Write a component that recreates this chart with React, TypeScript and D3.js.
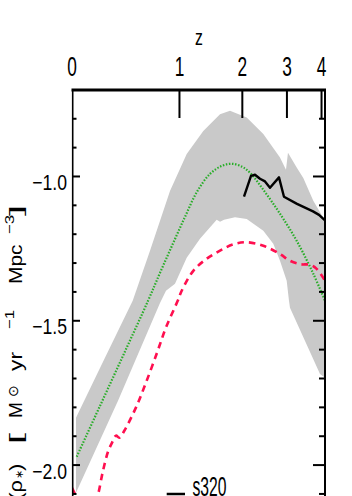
import React from "react";
import * as d3 from "d3";

// top axis: redshift z (positioned at log10(1+z))
const zTicks = [0, 1, 2, 3, 4];
const zTickLabels = ["0", "1", "2", "3", "4"];
// left axis: log star formation rate density
const yMajorTicks = [-1.0, -1.5, -2.0];
const yMajorLabels = ["\u22121.0", "\u22121.5", "\u22122.0"];
const yMinorTicks = [-0.8, -0.9, -1.1, -1.2, -1.3, -1.4, -1.6, -1.7, -1.8, -1.9, -2.1, -2.2];

// grey observational band: x = log10(1+z), y = log rho*
const bandUpperX = [0.0112, 0.0896, 0.17, 0.2185, 0.2745, 0.3213, 0.3678, 0.4146, 0.4426, 0.4894, 0.5359, 0.5826, 0.5994, 0.605, 0.6294, 0.6479, 0.6759, 0.7087];
const bandUpperY = [-1.836, -1.635, -1.431, -1.257, -1.05, -0.922, -0.842, -0.784, -0.772, -0.796, -0.853, -0.934, -0.977, -0.918, -0.969, -1.005, -1.084, -1.153];
const bandLowerX = [0.0112, 0.1289, 0.2465, 0.2633, 0.2885, 0.3213, 0.3585, 0.4053, 0.4146, 0.4258, 0.4566, 0.4894, 0.5359, 0.5639, 0.5826, 0.6014, 0.6078, 0.6106, 0.6947, 0.7087];
const bandLowerY = [-2.096, -1.777, -1.438, -1.396, -1.372, -1.282, -1.216, -1.15, -1.157, -1.15, -1.141, -1.147, -1.188, -1.233, -1.292, -1.361, -1.431, -1.455, -1.684, -1.697];

// green dotted curve
const fitX = [0.0132, 0.0784, 0.1485, 0.2129, 0.2465, 0.2801, 0.3165, 0.3501, 0.3866, 0.4202, 0.4482, 0.4762, 0.4986, 0.5359, 0.5826, 0.6294, 0.6759, 0.7087];
const fitY = [-1.971, -1.795, -1.606, -1.431, -1.334, -1.24, -1.14, -1.053, -0.991, -0.963, -0.956, -0.966, -0.987, -1.046, -1.129, -1.223, -1.337, -1.431];

// red dashed curve
const dustX = [0, 0.0112, 0.028, 0.0504, 0.0644, 0.0728, 0.0868, 0.1008, 0.112, 0.1232, 0.1325, 0.1465, 0.1793, 0.2073, 0.2401, 0.2633, 0.2961, 0.3073, 0.3398, 0.3773, 0.4146, 0.4518, 0.4894, 0.5359, 0.5826, 0.6106, 0.6387, 0.6667, 0.6854, 0.7087];
const dustY = [-2.079, -2.106, -2.134, -2.144, -2.134, -2.103, -2.02, -1.954, -1.923, -1.898, -1.905, -1.881, -1.8, -1.714, -1.604, -1.523, -1.431, -1.396, -1.327, -1.285, -1.257, -1.235, -1.228, -1.24, -1.269, -1.292, -1.304, -1.306, -1.32, -1.361];

// black solid curve (s320)
const simX = [0.4818, 0.5014, 0.5126, 0.5266, 0.5406, 0.5546, 0.5798, 0.5938, 0.6303, 0.6751, 0.6919, 0.7087];
const simY = [-1.07, -0.998, -0.994, -1.008, -1.017, -1.039, -1.003, -1.07, -1.095, -1.121, -1.133, -1.152];

const legendLabel = "s320";
const xTitle = "z";

const L = 72, R = 325, T = 90;

export default function App() {
  const x = d3.scaleLinear().domain([0, 0.7087]).range([L, R]);
  const y = d3.scaleLinear().domain([-0.7, -2.2]).range([89.9, 89.9 + 1.5 * 288.6]);

  const pts = (xs: number[], ys: number[]) => xs.map((v, i) => [v, ys[i]] as [number, number]);
  const lin = d3.line<[number, number]>().x(d => x(d[0])).y(d => y(d[1]));
  const smooth = d3.line<[number, number]>().x(d => x(d[0])).y(d => y(d[1])).curve(d3.curveCatmullRom.alpha(0.5));

  const bandPts = [...pts(bandUpperX, bandUpperY), ...pts(bandLowerX, bandLowerY).reverse()];
  const bandPath = lin(bandPts) + "Z";

  const font = "'Liberation Sans', Arial, sans-serif";
  const tr = (lx: number, ly: number, sx: number) => `translate(${lx},${ly}) scale(${sx},1)`;

  return (
    <svg width={352} height={496} style={{ position: "absolute", left: 0, top: 0, background: "#fff" }}>
      <defs>
        <clipPath id="plotclip">
          <rect x={L} y={T} width={R - L} height={500} />
        </clipPath>
      </defs>
      <g clipPath="url(#plotclip)">
        <path d={bandPath} fill="#c9c9c9" stroke="none" />
        <path d={smooth(pts(fitX, fitY)) || ""} fill="none" stroke="#28ad28" strokeWidth={2.2} strokeDasharray="1.5 1.6" />
        <path d={smooth(pts(dustX, dustY)) || ""} fill="none" stroke="#ff0f4f" strokeWidth={2.6} strokeDasharray="6.5 5" />
        <path d={lin(pts(simX, simY)) || ""} fill="none" stroke="#000" strokeWidth={2.4} strokeLinejoin="round" />
      </g>

      {/* frame */}
      <line x1={L + 0.7} x2={L + 0.7} y1={T} y2={500} stroke="#000" strokeWidth={1.6} />
      <line x1={R} x2={R} y1={T} y2={500} stroke="#000" strokeWidth={2} />
      <line x1={L - 0.5} x2={R + 1} y1={T} y2={T} stroke="#000" strokeWidth={3} />

      {/* top ticks */}
      {zTicks.map((z, i) => {
        const px = x(Math.log10(1 + z));
        return (
          <g key={"zt" + i}>
            {z > 0 && <line x1={px} x2={px} y1={T} y2={118} stroke="#000" strokeWidth={2} />}
            <text transform={`translate(${px},76) scale(0.64,1)`} textAnchor="middle" fontSize={27} fontFamily={font} fill="#000">
              {zTickLabels[i]}
            </text>
          </g>
        );
      })}
      <text transform={`translate(199,45) scale(0.7,1)`} textAnchor="middle" fontSize={22.5} fontFamily={font} fill="#000">
        {xTitle}
      </text>

      {/* y ticks */}
      {yMajorTicks.map((v, i) => (
        <g key={"ym" + i}>
          <line x1={L} x2={L + 8} y1={y(v)} y2={y(v)} stroke="#000" strokeWidth={2} />
          <line x1={R - 12} x2={R} y1={y(v)} y2={y(v)} stroke="#000" strokeWidth={2} />
          <text transform={`translate(67,${y(v) + 13.7}) scale(0.8,1)`} textAnchor="end" fontSize={22} fontFamily={font} fill="#000">
            {yMajorLabels[i]}
          </text>
        </g>
      ))}
      {yMinorTicks.map((v, i) => (
        <g key={"yn" + i}>
          <line x1={L} x2={L + 4.5} y1={y(v)} y2={y(v)} stroke="#000" strokeWidth={2} />
          <line x1={R - 6} x2={R} y1={y(v)} y2={y(v)} stroke="#000" strokeWidth={2} />
        </g>
      ))}

      {/* y title, rotated */}
      <g transform="translate(21.5,0) rotate(-90)" fontFamily={font} fill="#000">
        <text transform={tr(-480, 0, 1.15)} fontSize={19} textAnchor="end">log(ρ</text>
        <text transform={tr(-479, 1, 1)} fontSize={11}>∗</text>
        <text transform={tr(-471, 0, 1.15)} fontSize={19}>)</text>
        <text transform={tr(-444, 0, 2.1)} fontSize={19}>[</text>
        <text transform={tr(-418, 0, 1.0)} fontSize={19}>M</text>
        <text transform={tr(-397, -3.5, 1)} fontSize={14}>⊙</text>
        <text transform={tr(-371, 0, 1.2)} fontSize={19}>yr</text>
        <text transform={tr(-329, -8, 1.3)} fontSize={13}>−1</text>
        <text transform={tr(-284, 0, 1.1)} fontSize={19}>Mpc</text>
        <text transform={tr(-234, -8, 1.3)} fontSize={13}>−3</text>
        <text transform={tr(-216, 0, 2.1)} fontSize={19}>]</text>
      </g>

      {/* legend */}
      <line x1={166.7} x2={185} y1={494} y2={494} stroke="#000" strokeWidth={2.5} />
      <text transform={`translate(192.5,496) scale(0.58,1)`} fontSize={27} fontFamily={font} fill="#000">
        {legendLabel}
      </text>
    </svg>
  );
}
